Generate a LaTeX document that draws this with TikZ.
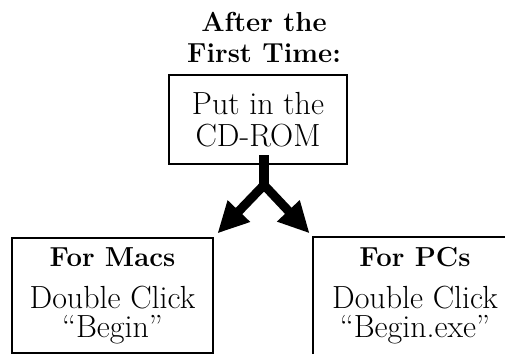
\documentclass[tikz,border=0pt]{standalone}
\usepackage{fontspec}
\usetikzlibrary{arrows.meta,positioning}

\begin{document}
\begin{tikzpicture}[x=1pt,y=1pt,>={Triangle[width=29pt,length=31pt]},
  box/.style={draw,line width=2pt,inner sep=0pt,align=center,font=\fontsize{32}{32}\selectfont},
  openbox/.style={box,draw=none},
  title/.style={align=center,font=\bfseries\fontsize{27.5}{31}\selectfont},
  branch/.style={line width=9pt}]

    \useasboundingbox (0,0) rectangle (505,354);

    \node[box,minimum width=178pt,minimum height=89pt] (cdrom) at (258,234.5) {Put in the\\CD-ROM};
    \node[title,anchor=base] (after) at (264,291) {After the\\First Time:};

    \node[box,minimum width=201pt,minimum height=115pt,font=\fontsize{32}{29}\selectfont] (macs) at (112.5,58.5)
        {{\bfseries\fontsize{27.5}{29}\selectfont For Macs}\\[13pt]Double Click\\“Begin”};
    \node[openbox,minimum width=202pt,minimum height=115pt,font=\fontsize{32}{29}\selectfont] (pcs) at (415,58.5)
        {{\bfseries\fontsize{27.5}{29}\selectfont For PCs}\\[13pt]Double Click\\“Begin.exe”};
    \draw[line width=2pt] (pcs.south west) -- (pcs.north west) -- (pcs.north east);

    \coordinate (fork) at (264,169);

    \draw[line width=10pt] ([yshift=10pt]cdrom.south -| fork) -- (fork);
    \draw[branch,<->,shorten <=5pt,shorten >=5pt] (macs.north east) -- (fork) -- (pcs.north west);

\end{tikzpicture}
\end{document}
